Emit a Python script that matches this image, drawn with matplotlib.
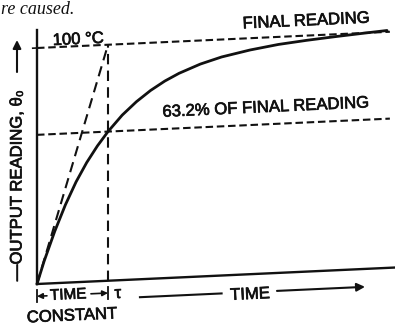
import numpy as np
import matplotlib
matplotlib.use("Agg")
import matplotlib.pyplot as plt
import matplotlib.patheffects as pe
from matplotlib.transforms import Affine2D

plt.rcParams['font.family'] = ['Liberation Sans', 'DejaVu Sans']

# First-order step response, time in units of the time constant,
# reading in percent of the final reading
time_tau = [0.0, 0.1, 0.25, 0.4, 0.55, 0.7, 0.85, 1.0, 1.2, 1.4, 1.6, 1.8,
            2.0, 2.3, 2.6, 3.0, 3.4, 3.8, 4.2, 4.6, 4.93]
reading_pct = [0.0, 9.5, 22.0, 33.0, 42.5, 50.5, 57.3, 63.2, 69.9, 75.3, 79.8, 83.5,
               86.5, 90.0, 92.6, 95.0, 96.8, 98.0, 99.0, 99.9, 100.6]
time_constant = 1.0
final_reading = 100.0
fraction_at_tau = 63.2
t_end = 4.97

fig = plt.figure(figsize=(3.95, 3.29), dpi=100)
W, H = 395, 329
ax = fig.add_axes([37 / W, 45 / H, 358 / W, 254 / H])
ax.set_xlim(0, 358 / 71)
ax.set_ylim(0, 254 / 2.36)
ax.axis('off')

# slight tilt of the whole drawing: x-direction rises to the right
x0, y0 = ax.transData.transform((0, 0))
k = 0.046
skew = Affine2D().translate(-x0, -y0).skew(0, np.arctan(k)).translate(x0, y0)
tr = ax.transData + skew
ang = np.degrees(np.arctan(k))

ink = '#111111'
dash = (0, (3.6, 1.8))
bold = [pe.withStroke(linewidth=0.5, foreground=ink)]

# axes lines
ax.plot([0, 0], [0, 254 / 2.36], color=ink, lw=1.7, transform=tr, clip_on=False)
ax.plot([0, 358 / 71], [0, 0], color=ink, lw=1.7, transform=tr, clip_on=False)

# reference lines
ax.plot([0, t_end], [final_reading, final_reading], color=ink, lw=1.5,
        ls=dash, transform=tr, clip_on=False)
ax.plot([0, t_end], [fraction_at_tau, fraction_at_tau], color=ink, lw=1.5,
        ls=dash, transform=tr, clip_on=False)
ax.plot([time_constant, time_constant], [0, final_reading], color=ink, lw=1.5,
        ls=(0, (5, 3)), transform=tr, clip_on=False)
# initial slope tangent
ax.plot([0, time_constant], [0, final_reading], color=ink, lw=1.5,
        ls=(0, (5, 3)), transform=tr, clip_on=False)
ax.plot([-0.06, 0], [final_reading, final_reading], color=ink, lw=1.2,
        transform=tr, clip_on=False)

# response curve
ax.plot(time_tau, reading_pct, color=ink, lw=2.0, transform=tr,
        clip_on=False, solid_capstyle='round')

fs = 12
txt = dict(color=ink, transform=tr, rotation=ang, rotation_mode='anchor',
           ha='center', va='center', path_effects=bold)
ax.text(0.58, 102.8, '100 °C', fontsize=fs, **txt)
ax.text(3.79, 106.2, 'FINAL READING', fontsize=fs, **txt)
ax.text(3.22, 70.3, '63.2% OF FINAL READING', fontsize=fs, **txt)

# time axis label with arrow
ax.text(3.0, -8.6, 'TIME', fontsize=fs, **txt)
ax.plot([1.45, 2.6], [-7.6, -7.6], color=ink, lw=1.5, transform=tr,
        clip_on=False)
ax.annotate('', xy=(4.62, -7.6), xytext=(3.38, -7.6), xycoords=tr,
            textcoords=tr,
            arrowprops=dict(arrowstyle='-|>', color=ink, lw=1.5,
                            mutation_scale=12, shrinkA=0, shrinkB=0))

# time-constant dimension marker
for xb in (0, time_constant):
    ax.plot([xb, xb], [-2.6, -7.8], color=ink, lw=1.3, transform=tr,
            clip_on=False)
ax.text(0.44, -5.3, 'TIME', fontsize=fs - 1, **txt)
for xa, xb in ((0.14, 0.0), (0.76, time_constant)):
    ax.annotate('', xy=(xb, -5.2), xytext=(xa, -5.2), xycoords=tr,
                textcoords=tr,
                arrowprops=dict(arrowstyle='-|>', color=ink, lw=1.2,
                                mutation_scale=8, shrinkA=0, shrinkB=0))
ax.text(1.14, -5.6, 'τ', fontsize=fs, **txt)
ax.text(0.49, -14.2, 'CONSTANT', fontsize=fs, **txt)

# vertical axis label with upward arrow
fig.text(17 / W, 1 - 186 / H, '—OUTPUT READING, θ₀', fontsize=fs,
         rotation=90, ha='center', va='center', color=ink, path_effects=bold)
ax.annotate('', xy=(17, H - 40), xytext=(17, H - 72),
            xycoords='figure pixels', textcoords='figure pixels',
            arrowprops=dict(arrowstyle='-|>', color=ink, lw=1.5,
                            mutation_scale=12, shrinkA=0, shrinkB=0))

# running text from the page above
fig.text(1 / W, 1 - 14 / H, 're caused.', fontsize=13, family='Liberation Serif',
         style='italic', ha='left', va='baseline', color=ink)

fig.savefig('out.png', dpi=100)
